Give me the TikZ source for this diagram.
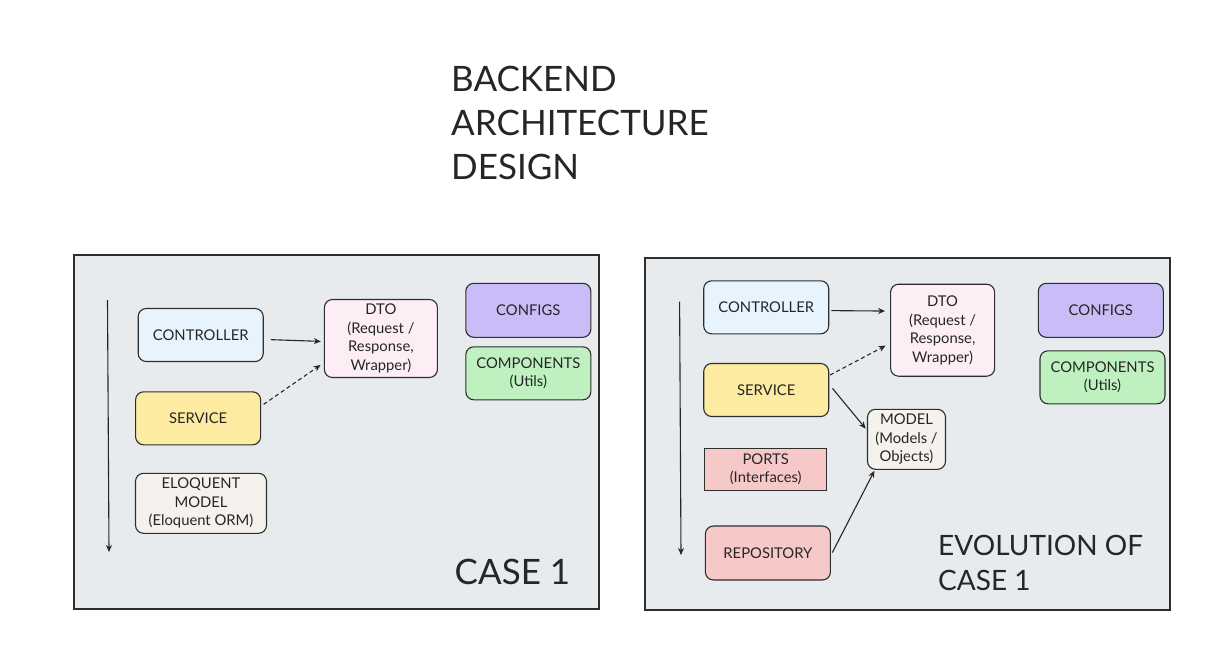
\documentclass[tikz,border=0pt]{standalone}
\usepackage{fontspec}
\usepackage{xcolor}
\usepackage{tikz}
\usetikzlibrary{arrows.meta}
\setmainfont{Lato}

\definecolor{panelgray}{HTML}{E8EBEE}
\definecolor{lineink}{HTML}{2E2E2E}
\definecolor{textink}{HTML}{262626}
\definecolor{ctrlblue}{HTML}{E8F4FD}
\definecolor{dtopink}{HTML}{FDEEF6}
\definecolor{srvyellow}{HTML}{FCEBA0}
\definecolor{mdlbeige}{HTML}{F5F1EC}
\definecolor{cfgviolet}{HTML}{C9BCF7}
\definecolor{cmpgreen}{HTML}{BEF0C0}
\definecolor{repred}{HTML}{F7C8C8}

\tikzset{
  layerbox/.style={draw=lineink, line width=1.1pt, rounded corners=8pt,
    align=center, inner sep=0pt, text=textink,
    font=\fontsize{14.8}{18.5}\selectfont},
  flow/.style={draw=textink, line width=1.1pt, -{Stealth[length=7pt,width=6pt]}},
  weakflow/.style={flow, dashed, dash pattern=on 4pt off 3pt},
}

\begin{document}
\begin{tikzpicture}[x=1pt,y=-1pt]
\useasboundingbox (0,0) rectangle (1222,646);
\fill[white] (0,0) rectangle (1222,646);

% title
\node[anchor=north west, inner sep=0pt, align=left, text=textink,
  font=\fontsize{35}{44}\selectfont] (title) at (451,65.5)
  {BACKEND\\ARCHITECTURE\\DESIGN};

% case 1
\draw[fill=panelgray, draw=lineink, line width=1.2pt] (74,255) rectangle (599,609);

\coordinate (topA) at (107.5,300);
\coordinate (botA) at (109,552);
\draw[flow] (topA) -- (botA);

\node[layerbox, fill=ctrlblue, minimum width=125pt, minimum height=53pt] (ctrlA) at (200.7,335) {CONTROLLER};
\node[layerbox, fill=dtopink, minimum width=113pt, minimum height=78pt] (dtoA) at (380.9,338.5) {DTO\\(Request /\\Response,\\Wrapper)};
\node[layerbox, fill=srvyellow, minimum width=125pt, minimum height=53pt] (srvA) at (198.1,418.3) {SERVICE};
\node[layerbox, fill=mdlbeige, minimum width=131pt, minimum height=60pt] (eloA) at (201,503.3) {ELOQUENT\\MODEL\\(Eloquent ORM)};
\node[layerbox, fill=cfgviolet, minimum width=125pt, minimum height=54pt] (cfgA) at (528.3,310.3) {CONFIGS};
\node[layerbox, fill=cmpgreen, minimum width=125pt, minimum height=53pt] (cmpA) at (528.3,373.3) {COMPONENTS\\(Utils)};

\draw[flow, shorten <=7pt, shorten >=3pt] (ctrlA.-4) -- (dtoA.183);
\draw[weakflow, shorten <=3pt, shorten >=4pt] (srvA.11) -- (dtoA.203);

\node[anchor=north west, inner sep=0pt, text=textink,
  font=\fontsize{35}{44}\selectfont] (caseA) at (454.5,558.5) {CASE 1};

% evolution of case 1
\draw[fill=panelgray, draw=lineink, line width=1.2pt] (645,258) rectangle (1170,610);

\coordinate (topB) at (679.6,301.7);
\coordinate (botB) at (681,555);
\draw[flow] (topB) -- (botB);

\node[layerbox, fill=ctrlblue, minimum width=125pt, minimum height=53pt] (ctrlB) at (766.2,307.3) {CONTROLLER};
\node[layerbox, fill=dtopink, minimum width=104pt, minimum height=92pt] (dtoB) at (942.6,330.2) {DTO\\(Request /\\Response,\\Wrapper)};
\node[layerbox, fill=cfgviolet, minimum width=125pt, minimum height=54pt] (cfgB) at (1100.8,310.3) {CONFIGS};
\node[layerbox, fill=cmpgreen, minimum width=125pt, minimum height=53pt] (cmpB) at (1102.5,377.3) {COMPONENTS\\(Utils)};
\node[layerbox, fill=srvyellow, minimum width=125pt, minimum height=53pt] (srvB) at (766.2,390) {SERVICE};
\node[layerbox, fill=mdlbeige, minimum width=78pt, minimum height=60pt] (mdlB) at (906.5,439.3) {MODEL\\(Models /\\Objects)};
\node[layerbox, rounded corners=0pt, fill=repred, minimum width=122pt, minimum height=42pt] (prtB) at (765.7,469.2) {PORTS\\(Interfaces)};
\node[layerbox, fill=repred, minimum width=125pt, minimum height=54pt] (repB) at (767.9,553) {REPOSITORY};

\draw[flow, shorten <=2pt, shorten >=5pt] (ctrlB.-3) -- (dtoB.160);
\draw[weakflow, shorten <=1pt, shorten >=5pt] (srvB.13) -- (dtoB.194);
\draw[flow, shorten <=5pt, shorten >=2pt] (srvB.5) -- (mdlB.167);
\draw[flow, shorten <=3pt, shorten >=1pt] (repB.-2) -- (mdlB.224);

\node[anchor=north west, inner sep=0pt, align=left, text=textink,
  font=\fontsize{28}{35}\selectfont] (caseB) at (938,535) {EVOLUTION OF\\CASE 1};

\end{tikzpicture}
\end{document}
